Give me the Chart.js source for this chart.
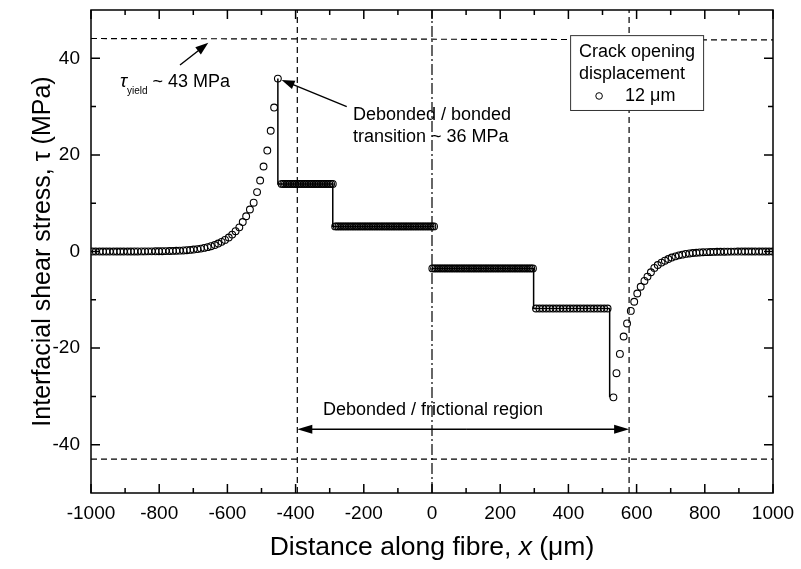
<!DOCTYPE html>
<html>
<head>
<meta charset="utf-8">
<script src="https://cdn.jsdelivr.net/npm/chart.js@4.4.1/dist/chart.umd.min.js"></script>
<style>
  body { margin: 0; background: #fff; }
  canvas { display: block; }
</style>
</head>
<body>
<canvas id="stressChart" width="801" height="569"></canvas>
<script>
// tail on the bonded side (left)
const leftTailX = [-996,-986,-975,-965,-955,-945,-934,-924,-914,-904,-893,-883,-873,-863,-852,-842,-832,-822,-811,-801,
  -791,-781,-770,-760,-750,-740,-729,-719,-709,-699,-688,-678,-668,-658,-648,-637,-627,-617,-607,-596,
  -586,-576,-565,-555,-545,-534,-523,-513,-504,-494,-483,-473,-463,-452];
const leftTailY = [0,0,0,0,0,0,0,0,0,0,0,0,0.01,0.01,0.02,0.02,0.03,0.03,0.04,0.05,
  0.06,0.08,0.1,0.12,0.15,0.18,0.22,0.27,0.33,0.4,0.5,0.6,0.75,0.9,1.1,1.35,1.65,2.0,2.4,2.9,
  3.5,4.2,5.0,6.1,7.3,8.7,10.1,12.3,14.7,17.6,20.9,25.0,29.8,35.8];

// frictional plateaus
const level14X = [-441,-436,-431,-426,-421,-416,-411,-406,-401,-396,-391,-386,-381,-376,-371,-366,-361,-356,-351,-346,
  -341,-336,-331,-326,-321,-316,-311,-306,-301,-296,-291];
const level14 = 14.0;
const level5X = [-284,-279,-274,-269,-264,-259,-254,-249,-244,-239,-234,-229,-224,-219,-214,-209,-204,-199,-194,-189,
  -184,-179,-174,-169,-164,-159,-154,-149,-144,-139,-134,-129,-124,-119,-114,-109,-104,-99,-94,-89,
  -84,-79,-74,-69,-64,-59,-54,-49,-44,-39,-34,-29,-24,-19,-14,-9,-4,1,6];
const level5 = 5.2;
const levelM3X = [1,6,11,16,21,26,31,36,41,46,51,56,61,66,71,76,81,86,91,96,101,106,111,116,121,126,131,136,141,146,
  151,156,161,166,171,176,181,186,191,196,201,206,211,216,221,226,231,236,241,246,251,256,261,266,271,276,281,286,291,296];
const levelM3 = -3.5;
const levelM12X = [305,315,325,335,345,355,365,375,385,395,405,415,425,435,445,455,465,475,485,495,505,515];
const levelM12 = -11.8;

// tail on the right side
const rightTailX = [532,541,551,562,572,583,593,602,612,623,632,642,652,662,673,683,693,703,714,724,
  734,744,755,765,775,785,795,806,816,826,836,846,857,867,877,887,897,908,918,928,938,948,959,969,979,989,999];
const rightTailY = [-30.2,-25.2,-21.2,-17.6,-14.9,-12.3,-10.4,-8.7,-7.3,-6.1,-5.2,-4.3,-3.4,-2.8,-2.3,-1.9,-1.55,-1.25,-1.0,-0.8,
  -0.65,-0.5,-0.4,-0.32,-0.26,-0.2,-0.16,-0.13,-0.1,-0.08,-0.06,-0.05,-0.04,-0.03,-0.02,-0.02,-0.01,-0.01,0,0,0,0,0,0,0,0,0];

// solid step line joining the plateaus
const stepAX = [-452,-452,-291,-291,6];
const stepAY = [35.8,14.0,14.0,5.2,5.2];
const stepBX = [1,298,298,521,521];
const stepBY = [-3.5,-3.5,-11.8,-11.8,-30.2];

// reference lines
const yieldY = [44.1, 43.8];
const lowerY = -43;
const debondLeftX = -395;
const debondRightX = 578;

const xMajor = [-1000,-800,-600,-400,-200,0,200,400,600,800,1000];
const xMinor = [-900,-700,-500,-300,-100,100,300,500,700,900];
const yMajor = [-40,-20,0,20,40];
const yMinor = [-30,-10,10,30];

const pts = (xs, ys) => xs.map((x, i) => ({x: x, y: ys[i]}));
const flat = (xs, v) => xs.map(x => ({x: x, y: v}));

const circles = [].concat(
  pts(leftTailX, leftTailY),
  flat(level14X, level14),
  flat(level5X, level5),
  flat(levelM3X, levelM3),
  flat(levelM12X, levelM12),
  pts(rightTailX, rightTailY)
);

const FONT = "'Liberation Sans', Arial, sans-serif";

function arrow(ctx, x1, y1, x2, y2, len, w) {
  const a = Math.atan2(y2 - y1, x2 - x1);
  const c = Math.cos(a), s = Math.sin(a);
  ctx.beginPath();
  ctx.moveTo(x1, y1);
  ctx.lineTo(x2 - c * len * 0.7, y2 - s * len * 0.7);
  ctx.stroke();
  ctx.beginPath();
  ctx.moveTo(x2, y2);
  ctx.lineTo(x2 - len * c + w * s, y2 - len * s - w * c);
  ctx.lineTo(x2 - len * c - w * s, y2 - len * s + w * c);
  ctx.closePath();
  ctx.fill();
}

const decor = {
  id: 'decor',
  afterDatasetsDraw(chart) {
    const {ctx, chartArea: a, scales: {x, y}} = chart;
    const px = v => x.getPixelForValue(v);
    const py = v => y.getPixelForValue(v);
    ctx.save();
    ctx.strokeStyle = '#000';
    ctx.fillStyle = '#000';

    // frame and inward ticks on all sides
    ctx.lineWidth = 1.5;
    ctx.strokeRect(a.left, a.top, a.right - a.left, a.bottom - a.top);
    ctx.beginPath();
    xMajor.forEach(v => { const p = px(v);
      ctx.moveTo(p, a.bottom); ctx.lineTo(p, a.bottom - 9);
      ctx.moveTo(p, a.top); ctx.lineTo(p, a.top + 9); });
    xMinor.forEach(v => { const p = px(v);
      ctx.moveTo(p, a.bottom); ctx.lineTo(p, a.bottom - 5);
      ctx.moveTo(p, a.top); ctx.lineTo(p, a.top + 5); });
    yMajor.forEach(v => { const p = py(v);
      ctx.moveTo(a.left, p); ctx.lineTo(a.left + 9, p);
      ctx.moveTo(a.right, p); ctx.lineTo(a.right - 9, p); });
    yMinor.forEach(v => { const p = py(v);
      ctx.moveTo(a.left, p); ctx.lineTo(a.left + 5, p);
      ctx.moveTo(a.right, p); ctx.lineTo(a.right - 5, p); });
    ctx.stroke();

    // tick labels
    ctx.font = '19px ' + FONT;
    ctx.textBaseline = 'middle';
    ctx.textAlign = 'center';
    xMajor.forEach(v => ctx.fillText(String(v), px(v), a.bottom + 21));
    ctx.textAlign = 'right';
    yMajor.forEach(v => ctx.fillText(String(v), a.left - 11, py(v)));

    // arrows
    ctx.lineWidth = 1.4;
    arrow(ctx, px(-739), py(38.6), px(-656), py(43.2), 13, 4.5);
    arrow(ctx, px(-250), py(30.0), px(-441), py(35.5), 13, 4.5);
    const yy = py(-36.8);
    arrow(ctx, px(100), yy, px(debondLeftX), yy, 15, 4.5);
    arrow(ctx, px(100), yy, px(debondRightX), yy, 15, 4.5);

    // annotation text
    ctx.textAlign = 'left';
    ctx.font = 'italic 19px ' + FONT;
    ctx.fillText('τ', px(-915), py(35.1));
    const tw = ctx.measureText('τ').width;
    ctx.font = '10px ' + FONT;
    ctx.fillText('yield', px(-915) + tw, py(33.2));
    ctx.font = '18px ' + FONT;
    ctx.fillText('~ 43 MPa', px(-820), py(35.1));
    ctx.fillText('Debonded / bonded', px(-232), py(28.3));
    ctx.fillText('transition ~ 36 MPa', px(-232), py(23.8));
    ctx.fillText('Debonded / frictional region', px(-320), py(-32.8));

    // legend box
    const bx = px(405), by = py(44.8), bw = px(795) - bx, bh = py(29.3) - by;
    ctx.fillStyle = '#fff';
    ctx.fillRect(bx, by, bw, bh);
    ctx.strokeStyle = '#333';
    ctx.lineWidth = 1;
    ctx.strokeRect(bx + 0.5, by + 0.5, bw, bh);
    ctx.fillStyle = '#000';
    ctx.fillText('Crack opening', px(431), py(41.4));
    ctx.fillText('displacement', px(431), py(36.8));
    ctx.fillText('12 μm', px(566), py(32.2));
    ctx.strokeStyle = '#000';
    ctx.beginPath();
    ctx.arc(px(490), py(32.2), 3.3, 0, Math.PI * 2);
    ctx.stroke();

    // axis titles
    ctx.font = '25px ' + FONT;
    ctx.textAlign = 'center';
    ctx.save();
    ctx.translate(43, (a.top + a.bottom) / 2);
    ctx.rotate(-Math.PI / 2);
    ctx.fillText('Interfacial shear stress, τ (MPa)', 0, 0);
    ctx.restore();

    const tf = '26.5px ' + FONT;
    const t1 = 'Distance along fibre, ', t2 = 'x', t3 = ' (μm)';
    ctx.textAlign = 'left';
    ctx.font = tf;
    const w1 = ctx.measureText(t1).width, w3 = ctx.measureText(t3).width;
    ctx.font = 'italic ' + tf;
    const w2 = ctx.measureText(t2).width;
    const sx = (a.left + a.right) / 2 - (w1 + w2 + w3) / 2;
    const ty = 548;
    ctx.font = tf;
    ctx.fillText(t1, sx, ty);
    ctx.font = 'italic ' + tf;
    ctx.fillText(t2, sx + w1, ty);
    ctx.font = tf;
    ctx.fillText(t3, sx + w1 + w2, ty);
    ctx.restore();
  }
};

const refLine = (data, dash) => ({
  type: 'line', data: data, showLine: true, pointRadius: 0,
  borderColor: '#000', borderWidth: 1.2, borderDash: dash, fill: false
});

new Chart(document.getElementById('stressChart').getContext('2d'), {
  type: 'scatter',
  data: {
    datasets: [
      { label: '12 μm', data: circles, pointRadius: 3.4, pointBorderWidth: 1.1,
        pointBackgroundColor: 'rgba(0,0,0,0)', pointBorderColor: '#000', showLine: false },
      { type: 'line', data: pts(stepAX, stepAY), showLine: true, pointRadius: 0, borderColor: '#000', borderWidth: 1.5 },
      { type: 'line', data: pts(stepBX, stepBY), showLine: true, pointRadius: 0, borderColor: '#000', borderWidth: 1.5 },
      refLine([{x: -1000, y: yieldY[0]}, {x: 1000, y: yieldY[1]}], [6, 4]),
      refLine([{x: -1000, y: lowerY}, {x: 1000, y: lowerY}], [6, 4]),
      refLine([{x: debondLeftX, y: -50}, {x: debondLeftX, y: 50}], [6, 4]),
      refLine([{x: debondRightX, y: -50}, {x: debondRightX, y: 50}], [6, 4]),
      refLine([{x: 0, y: -50}, {x: 0, y: 50}], [11, 3, 2, 3])
    ]
  },
  options: {
    responsive: false,
    animation: false,
    layout: { padding: { top: 10, right: 28, left: 0, bottom: 0 } },
    plugins: { legend: { display: false }, tooltip: { enabled: false } },
    scales: {
      x: {
        type: 'linear', min: -1000, max: 1000,
        grid: { display: false, drawTicks: false },
        border: { display: false },
        ticks: { display: false, stepSize: 200 },
        afterFit: s => { s.height = 76; }
      },
      y: {
        type: 'linear', min: -50, max: 50,
        grid: { display: false, drawTicks: false },
        border: { display: false },
        ticks: { display: false, stepSize: 20 },
        afterFit: s => { s.width = 91; }
      }
    }
  },
  plugins: [decor]
});
</script>
</body>
</html>
